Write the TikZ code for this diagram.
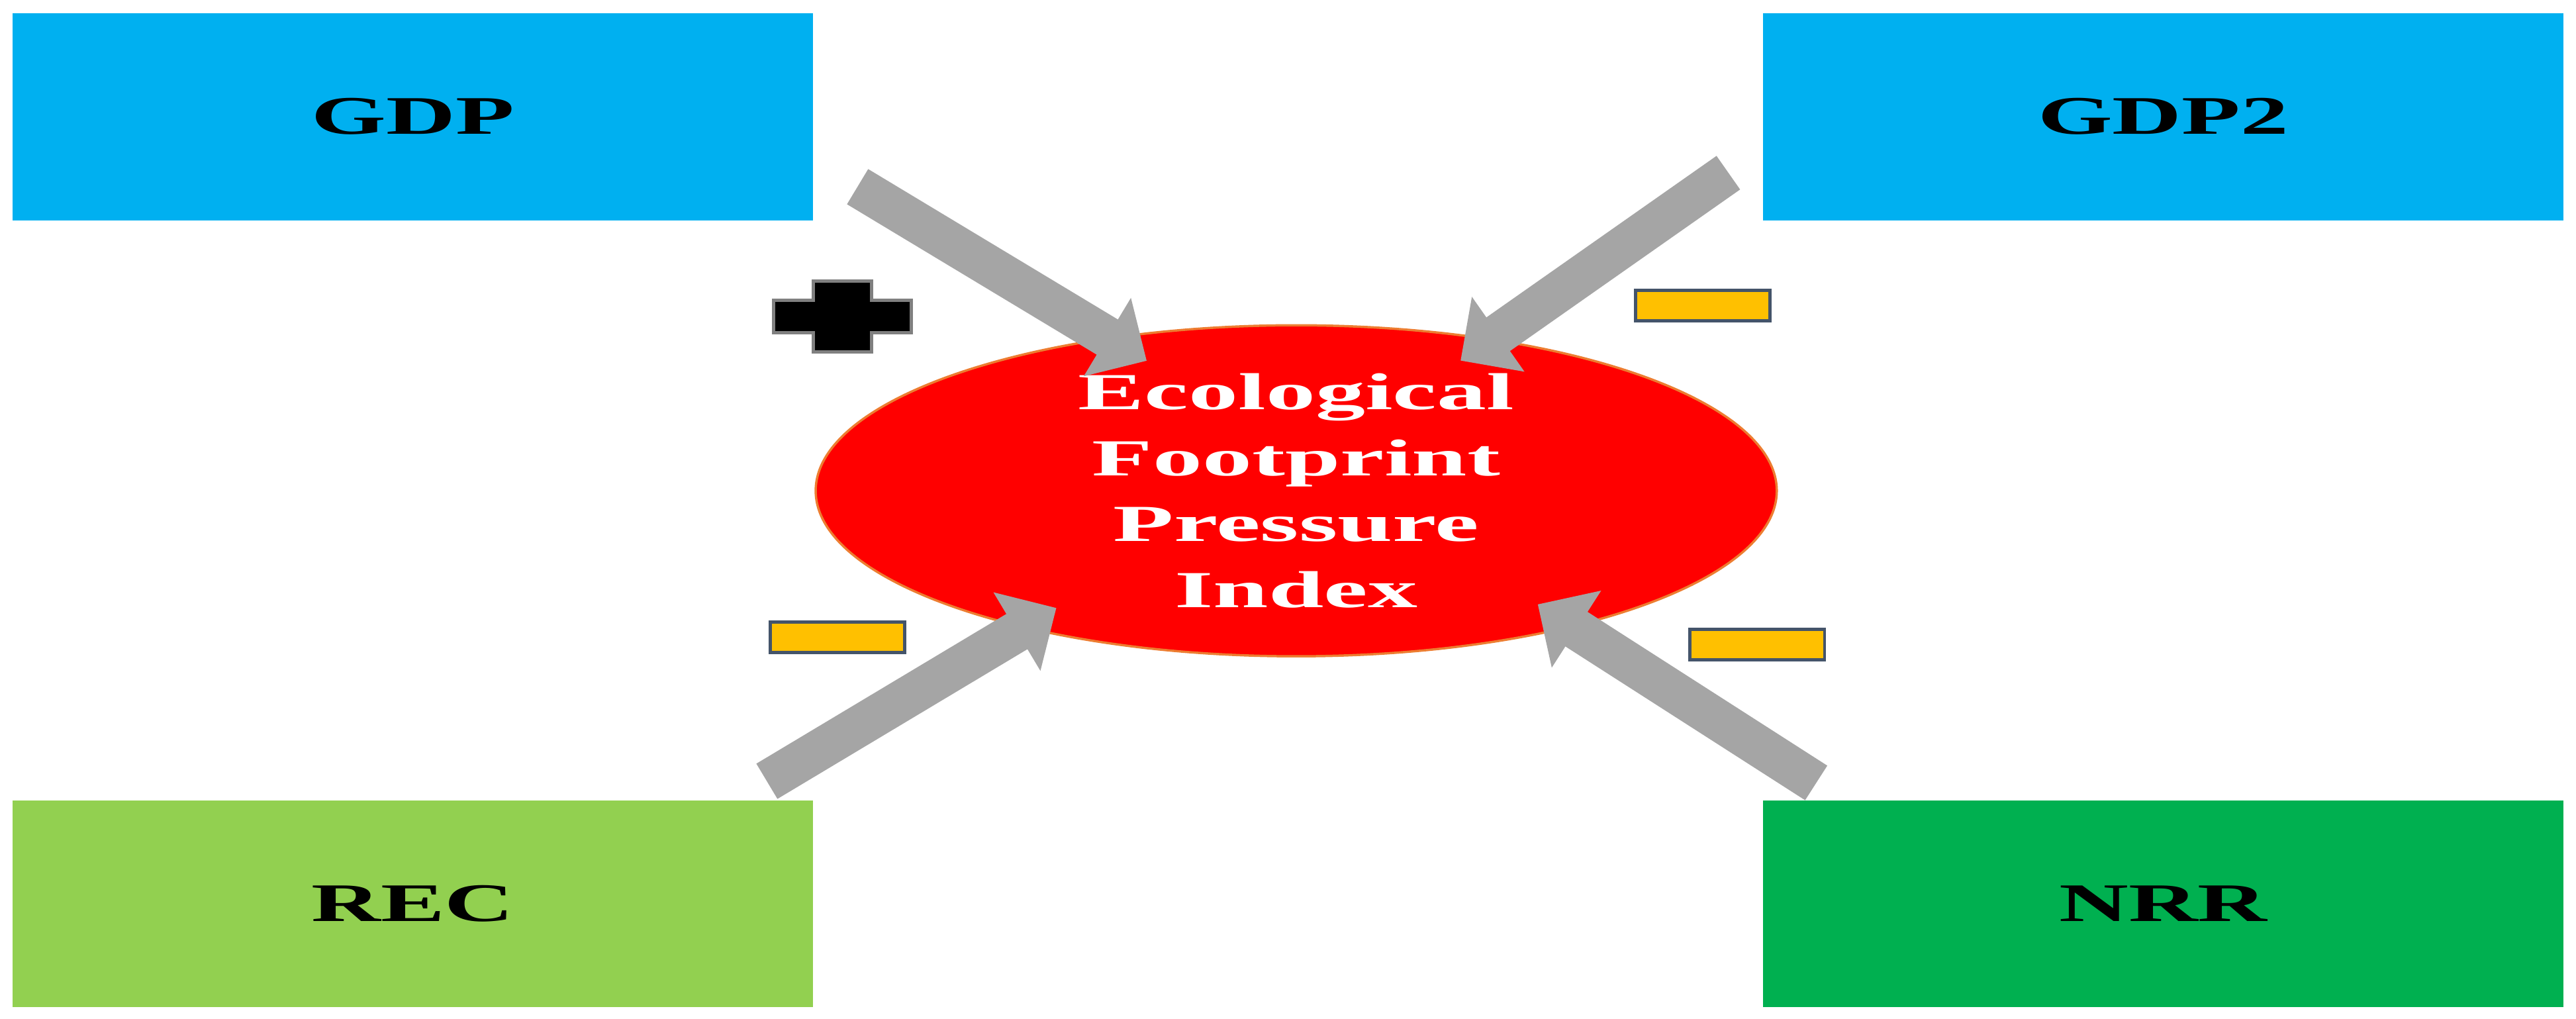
\documentclass[tikz,border=0pt]{standalone}
\usepackage{fontspec}
\usepackage{tikz}
\usetikzlibrary{arrows.meta,shapes.geometric}
\newfontfamily\boxfont[FakeStretch=1.77]{Liberation Serif}
\newfontfamily\ovalfont[FakeStretch=1.91]{Liberation Serif}
\definecolor{skyblue}{HTML}{00B0F0}
\definecolor{lightgreen}{HTML}{92D050}
\definecolor{darkgreen}{HTML}{00B050}
\definecolor{ovalred}{HTML}{FF0000}
\definecolor{ovalrim}{HTML}{ED7D31}
\definecolor{signyellow}{HTML}{FFC000}
\definecolor{signrim}{HTML}{44546A}
\definecolor{arrowgray}{HTML}{A5A5A5}

\begin{document}
\begin{tikzpicture}[
	var/.style = {rectangle, minimum width = 4.87cm, minimum height = 1.26cm, inner sep = 0pt, font = \boxfont\bfseries\fontsize{9.4}{11}\selectfont},
	indexoval/.style = {ellipse, fill = ovalred, draw = ovalrim, line width = .4pt, minimum width = 5.85cm, minimum height = 1.61cm, inner sep = 0pt, text = white, align = center, font = \ovalfont\bfseries\fontsize{9}{11.4}\selectfont},
	minusbar/.style = {rectangle, fill = signyellow, draw = signrim, line width = .02cm, minimum width = .82cm, minimum height = .185cm, inner sep = 0pt},
	effect/.style = {draw = arrowgray, line width = .25cm, -{Triangle[width = .54cm, length = .28cm]}},
	plussign/.style = {fill = black, draw = black!50, line width = .02cm}
]
	\useasboundingbox (0,0) rectangle (15.68,6.2);

	% the four variables
	\node[var, fill = skyblue] (gdp) at (2.513,5.49) {GDP};
	\node[var, fill = skyblue] (gdp2) at (13.167,5.49) {GDP2};
	\node[var, fill = lightgreen] (rec) at (2.513,0.70) {REC};
	\node[var, fill = darkgreen] (nrr) at (13.167,0.70) {NRR};

	% the index in the middle
	\node[indexoval] (efpi) at (7.89,3.213) {Ecological\\Footprint\\Pressure\\Index};

	% arrows
	\coordinate (gdp-tail) at (5.22,5.064);
	\coordinate (gdp-tip) at (6.98,4.004);
	\coordinate (gdp2-tail) at (10.52,5.149);
	\coordinate (gdp2-tip) at (8.89,4.005);
	\coordinate (rec-tail) at (4.668,1.445);
	\coordinate (rec-tip) at (6.43,2.50);
	\coordinate (nrr-tail) at (11.055,1.435);
	\coordinate (nrr-tip) at (9.36,2.522);
	\draw[effect] (gdp-tail) -- (gdp-tip);
	\draw[effect] (gdp2-tail) -- (gdp2-tip);
	\draw[effect] (rec-tail) -- (rec-tip);
	\draw[effect] (nrr-tail) -- (nrr-tip);

	% signs
	\coordinate (plus) at (5.128,4.274);
	\draw[plussign] (plus) ++(-0.42,-0.1) -- ++(0,0.2) -- ++(0.242,0) -- ++(0,0.117) -- ++(0.356,0) -- ++(0,-0.117) -- ++(0.242,0) -- ++(0,-0.2) -- ++(-0.242,0) -- ++(0,-0.117) -- ++(-0.356,0) -- ++(0,0.117) -- cycle;
	\node[minusbar] (gdp2-sign) at (10.365,4.34) {};
	\node[minusbar] (rec-sign) at (5.098,2.321) {};
	\node[minusbar] (nrr-sign) at (10.696,2.278) {};
\end{tikzpicture}
\end{document}
